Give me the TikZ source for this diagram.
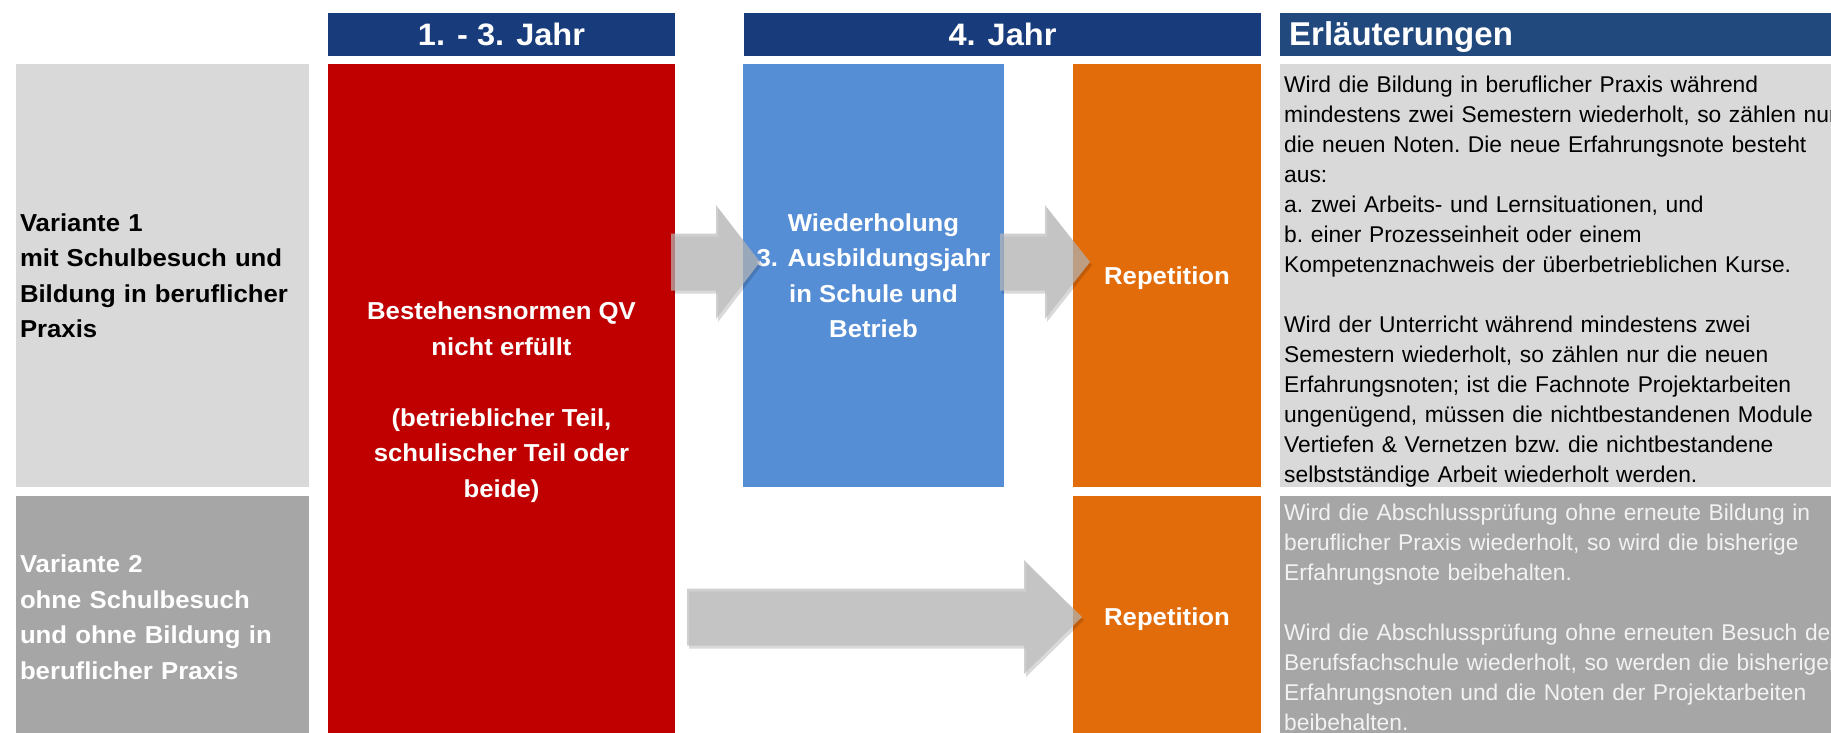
\documentclass[tikz,border=0pt]{standalone}
\usepackage{fontspec}
\setmainfont{Liberation Sans}
\newfontfamily\widesans[FakeStretch=1.05]{Liberation Sans}
\usepackage{tikz}
\usetikzlibrary{calc,shadows}

\definecolor{headblue}{HTML}{183B7C}
\definecolor{notehead}{HTML}{21497D}
\definecolor{failred}{HTML}{C00000}
\definecolor{repblue}{HTML}{558ED5}
\definecolor{reporange}{HTML}{E36C0A}
\definecolor{lightgrey}{HTML}{D9D9D9}
\definecolor{midgrey}{HTML}{A6A6A6}
\definecolor{notelight}{HTML}{F2F2F2}
\definecolor{arrowgrey}{HTML}{BBBBBB}

\tikzset{colbox/.style={shape=rectangle,inner sep=0pt,text=white,align=center,
    font=\widesans\bfseries\fontsize{24.5}{35.5}\selectfont}}
\tikzset{headbox/.style={shape=rectangle,fill=headblue,minimum height=43pt,inner sep=0pt,
    text=white,text height=22pt,text depth=0pt,
    font=\widesans\bfseries\fontsize{31}{36}\selectfont}}
\tikzset{notebox/.style={shape=rectangle,anchor=west,inner xsep=4pt,inner ysep=0pt,
    text width=640pt,align=left,font=\fontsize{22.8}{30}\selectfont\frenchspacing}}
\tikzset{flowarrow/.style={fill=arrowgrey,fill opacity=.7,
    drop shadow={shadow xshift=2pt,shadow yshift=-3pt,opacity=.15,fill=black}}}

% block arrow: start, tip, head length
\newcommand{\blockarrow}[3]{%
  \path[flowarrow] let \p1=(#1), \p2=(#2) in
    (\x1,\y1+28.5pt) -- (\x2-#3,\y1+28.5pt) -- (\x2-#3,\y1+57pt)
    -- (\x2,\y1) -- (\x2-#3,\y1-57pt) -- (\x2-#3,\y1-28.5pt)
    -- (\x1,\y1-28.5pt) -- cycle;}

\begin{document}
\begin{tikzpicture}[x=1pt,y=-1pt]
	\useasboundingbox (0,0) rectangle (1831,732);
	\clip (0,0) rectangle (1831,732);
	%
	\node[headbox,minimum width=347pt] (yrs13) at (501.5,34.5) {1. - 3. Jahr};
	\node[headbox,minimum width=517pt] (yr4) at (1002.5,34.5) {4. Jahr};
	\node[headbox,fill=notehead,anchor=west,text width=630pt,inner xsep=9pt,align=left,
		font=\bfseries\fontsize{33}{36}\selectfont] (notes) at (1280,34.5) {Erläuterungen};
	%
	\node[colbox,fill=lightgrey,text=black,minimum width=293pt,minimum height=423pt,text width=285pt,align=left] (var1) at (162.5,275.5)
		{Variante 1\\mit Schulbesuch und\\Bildung in beruflicher\\Praxis};
	\node[colbox,fill=midgrey,minimum width=293pt,minimum height=242pt,text width=285pt,align=left] (var2) at (162.5,617)
		{Variante 2\\ohne Schulbesuch\\und ohne Bildung in\\beruflicher Praxis};
	\node[colbox,fill=failred,minimum width=347pt,minimum height=676pt] (fail) at (501.5,402)
		{Bestehensnormen QV\\nicht erfüllt\\[35.5pt](betrieblicher Teil,\\schulischer Teil oder\\beide)};
	\node[colbox,fill=repblue,minimum width=261pt,minimum height=423pt] (redo) at (873.5,275.5)
		{Wiederholung\\3. Ausbildungsjahr\\in Schule und\\Betrieb};
	\node[colbox,fill=reporange,minimum width=188pt,minimum height=423pt,text depth=0pt] (repA) at (1167,275.5) {Repetition};
	\node[colbox,fill=reporange,minimum width=188pt,minimum height=242pt,text depth=0pt] (repB) at (1167,617) {Repetition};
	%
	\node[notebox,fill=lightgrey,text=black,minimum height=423pt] (note1) at (1280,275.5)
		{\rule{0pt}{28.5pt}Wird die Bildung in beruflicher Praxis während\\
		mindestens zwei Semestern wiederholt, so zählen nur\\
		die neuen Noten. Die neue Erfahrungsnote besteht\\
		aus:\\
		a. zwei Arbeits- und Lernsituationen, und\\
		b. einer Prozesseinheit oder einem\\
		Kompetenznachweis der überbetrieblichen Kurse.\\[30pt]
		Wird der Unterricht während mindestens zwei\\
		Semestern wiederholt, so zählen nur die neuen\\
		Erfahrungsnoten; ist die Fachnote Projektarbeiten\\
		ungenügend, müssen die nichtbestandenen Module\\
		Vertiefen \& Vernetzen bzw. die nichtbestandene\\
		selbstständige Arbeit wiederholt werden.};
	\node[notebox,fill=midgrey,text=notelight,minimum height=242pt] (note2) at (1280,617)
		{Wird die Abschlussprüfung ohne erneute Bildung in\\
		beruflicher Praxis wiederholt, so wird die bisherige\\
		Erfahrungsnote beibehalten.\\[30pt]
		Wird die Abschlussprüfung ohne erneuten Besuch der\\
		Berufsfachschule wiederholt, so werden die bisherigen\\
		Erfahrungsnoten und die Noten der Projektarbeiten\\
		beibehalten.};
	%
	\coordinate (a1s) at (671,262);
	\coordinate (a1e) at (760,262);
	\coordinate (a2s) at (1000,262);
	\coordinate (a2e) at (1090,262);
	\coordinate (a3s) at (687,617);
	\coordinate (a3e) at (1082,617);
	\blockarrow{a1s}{a1e}{44pt}
	\blockarrow{a2s}{a2e}{45pt}
	\blockarrow{a3s}{a3e}{58pt}
\end{tikzpicture}
\end{document}
